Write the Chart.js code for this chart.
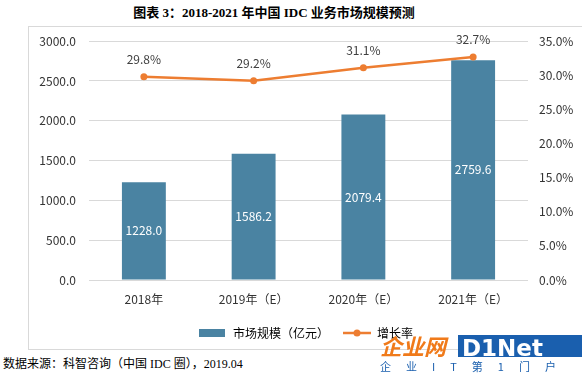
<!DOCTYPE html>
<html>
<head>
<meta charset="utf-8">
<script src="https://cdn.jsdelivr.net/npm/chart.js@4"></script>
<style>
  body { margin: 0; width: 582px; height: 373px; overflow: hidden; background: #fff; position: relative;
         font-family: "Noto Sans CJK SC", sans-serif; }
  #title { position: absolute; left: 0; top: 2px; width: 548px; text-align: center;
           font: bold 13px "Liberation Serif", "Noto Sans CJK SC", serif; color: #000; }
  #box { position: absolute; left: 28px; top: 26px; width: 570px; height: 322px;
         border: 1px solid #d9d9d9; }
  #wrap { position: absolute; left: 0; top: -6px; width: 554px; height: 328px; }
  #source { position: absolute; left: 3px; top: 354px; font: 12px "Liberation Serif", "Noto Sans CJK SC", serif; color: #000; }
  #logo { position: absolute; left: 380px; top: 333px; font: bold italic 22px "Noto Sans CJK SC", sans-serif; line-height: 24px; white-space: nowrap; }
  #logo .cn { color: #f07a1a; }
  #logo .en { position: absolute; left: 78px; top: 2px; width: 124px; background: #1a5fae; color: #fff; padding-left: 4px; height: 22px;
              line-height: 22px; font: bold 23px "DejaVu Sans", sans-serif; }
  #slogan { position: absolute; left: 380px; top: 358px; font: 11px "Noto Sans CJK SC", sans-serif; color: #1a5fae;
            letter-spacing: 15px; white-space: nowrap; }
</style>
</head>
<body>
<div id="title">图表 3：2018-2021 年中国 IDC 业务市场规模预测</div>
<div id="box"><div id="wrap"><canvas id="chart"></canvas></div></div>
<div id="logo"><span class="cn">企业网</span><span class="en">D1Net</span></div>
<div id="slogan">企业IT第1门户</div>
<div id="source">数据来源：科智咨询（中国 IDC 圈），2019.04</div>
<script>
const categories = ['2018年', '2019年（E）', '2020年（E）', '2021年（E）'];
const marketSize = [1228.0, 1586.2, 2079.4, 2759.6];
const growthRate = [29.8, 29.2, 31.1, 32.7];
const barLabel = '市场规模（亿元）';
const lineLabel = '增长率';

const barColor = '#4a83a2';
const lineColor = '#ed7d31';

function legendIcon(kind) {
  const c = document.createElement('canvas');
  c.width = 28; c.height = 10;
  const g = c.getContext('2d');
  if (kind === 'bar') {
    g.fillStyle = barColor;
    g.fillRect(0, 1, 26, 8);
  } else {
    g.strokeStyle = lineColor; g.lineWidth = 2.5;
    g.beginPath(); g.moveTo(0, 5); g.lineTo(28, 5); g.stroke();
    g.fillStyle = lineColor;
    g.beginPath(); g.arc(14, 5, 3.5, 0, Math.PI * 2); g.fill();
  }
  return c;
}

const valueLabels = {
  id: 'valueLabels',
  afterDatasetsDraw(chart) {
    const ctx = chart.ctx;
    ctx.save();
    ctx.font = '12px "Noto Sans CJK SC", sans-serif';
    ctx.textAlign = 'center';
    ctx.textBaseline = 'middle';
    chart.getDatasetMeta(0).data.forEach((el, i) => {
      ctx.fillStyle = '#ffffff';
      ctx.fillText(marketSize[i].toFixed(1), el.x, (el.y + el.base) / 2);
    });
    chart.getDatasetMeta(1).data.forEach((el, i) => {
      ctx.fillStyle = '#404040';
      ctx.fillText(growthRate[i].toFixed(1) + '%', el.x, el.y - 17);
    });
    ctx.restore();
  }
};

new Chart(document.getElementById('chart'), {
  data: {
    labels: categories,
    datasets: [
      {
        type: 'bar', label: barLabel, data: marketSize, yAxisID: 'y',
        backgroundColor: barColor, categoryPercentage: 1.0, barPercentage: 0.4, order: 2
      },
      {
        type: 'line', label: lineLabel, data: growthRate, yAxisID: 'y1',
        borderColor: lineColor, backgroundColor: lineColor, borderWidth: 2.5,
        pointRadius: 3.5, pointBackgroundColor: lineColor, pointBorderWidth: 0, tension: 0, order: 1
      }
    ]
  },
  options: {
    responsive: true,
    maintainAspectRatio: false,
    animation: false,
    layout: { padding: { top: 8, bottom: 0 } },
    plugins: {
      tooltip: { enabled: false },
      legend: {
        position: 'bottom',
        labels: {
          usePointStyle: true,
          pointStyleWidth: 28,
          padding: 14,
          font: { size: 12, family: '"Noto Sans CJK SC", sans-serif' },
          color: '#333',
          generateLabels: () => [
            { text: barLabel, pointStyle: legendIcon('bar'), fillStyle: barColor, strokeStyle: barColor, lineWidth: 0, datasetIndex: 0 },
            { text: lineLabel, pointStyle: legendIcon('line'), fillStyle: lineColor, strokeStyle: lineColor, lineWidth: 0, datasetIndex: 1 }
          ]
        }
      }
    },
    scales: {
      x: {
        grid: { display: false },
        border: { display: false },
        ticks: { color: '#333', font: { size: 12, family: '"Noto Sans CJK SC", sans-serif' }, padding: 4 },
        afterFit: s => { s.height = 33; }
      },
      y: {
        position: 'left', min: 0, max: 3000,
        grid: { color: '#d9d9d9', drawTicks: false },
        border: { display: false },
        ticks: { stepSize: 500, padding: 13, color: '#333', font: { size: 12, family: '"Noto Sans CJK SC", sans-serif' },
                 callback: v => v.toFixed(1) },
        afterFit: s => { s.width = 60; }
      },
      y1: {
        position: 'right', min: 0, max: 35,
        grid: { display: false, drawTicks: false },
        border: { display: false },
        ticks: { stepSize: 5, padding: 11, color: '#333', font: { size: 12, family: '"Noto Sans CJK SC", sans-serif' },
                 callback: v => v.toFixed(1) + '%' },
        afterFit: s => { s.width = 55; }
      }
    }
  },
  plugins: [valueLabels]
});
</script>
</body>
</html>
